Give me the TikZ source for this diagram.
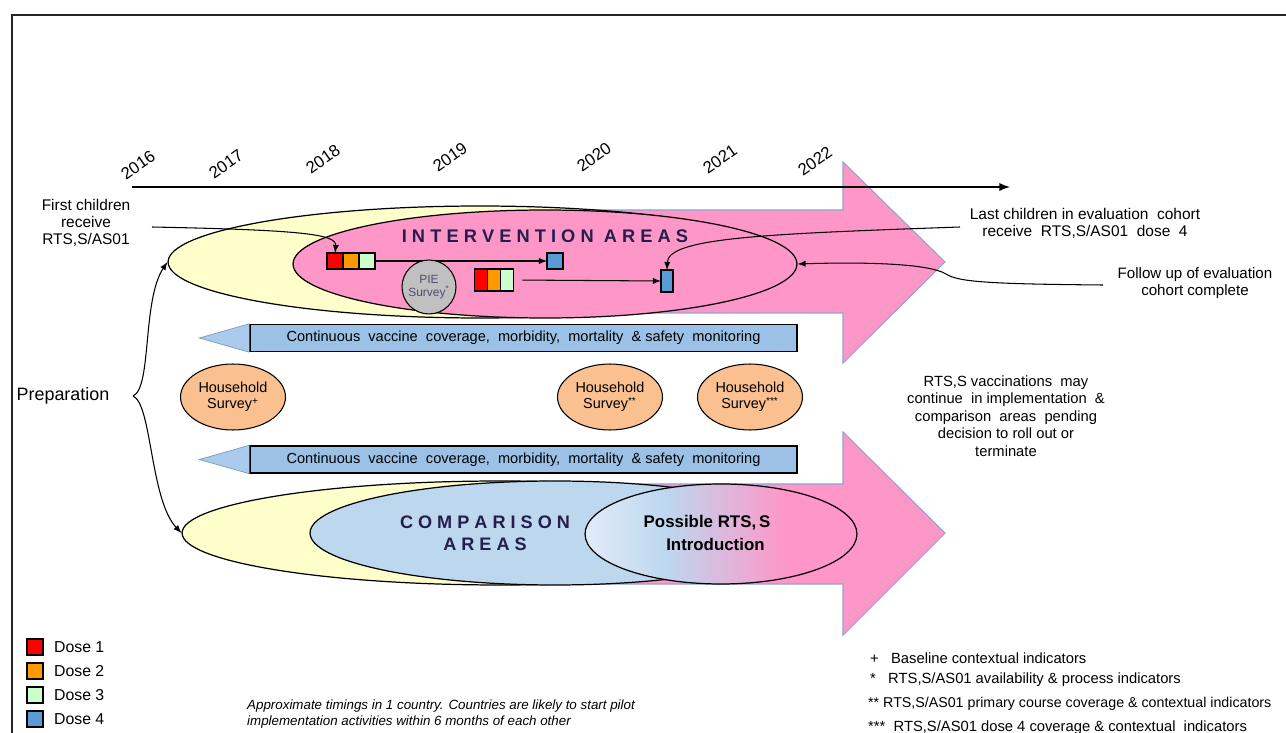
\documentclass[tikz,border=0pt]{standalone}
\usepackage{fontspec}
\setmainfont{Liberation Sans}
\usetikzlibrary{positioning}
\usetikzlibrary{calc}
\usetikzlibrary{arrows}
\usetikzlibrary{shapes}
\definecolor{pinkfill}{RGB}{255,150,200}
\definecolor{pinkedge}{RGB}{140,165,210}
\definecolor{yellowfill}{RGB}{255,255,204}
\definecolor{cmpblue}{RGB}{189,215,238}
\definecolor{introlight}{RGB}{225,235,248}
\definecolor{monblue}{RGB}{155,194,230}
\definecolor{monhead}{RGB}{170,203,236}
\definecolor{hhorange}{RGB}{250,192,144}
\definecolor{piegray}{RGB}{192,192,192}
\definecolor{dose1}{RGB}{255,0,0}
\definecolor{dose2}{RGB}{255,153,0}
\definecolor{dose3}{RGB}{204,255,204}
\definecolor{dose4}{RGB}{91,155,213}
\definecolor{navy}{RGB}{35,30,75}
\pgfdeclarehorizontalshading{introshade}{100bp}{color(0bp)=(introlight); color(25bp)=(introlight); color(40bp)=(cmpblue); color(62bp)=(pinkfill); color(100bp)=(pinkfill)}

\begin{document}
\begin{tikzpicture}[x=0.02cm, y=-0.02cm,
	conn/.style={line width=0.6pt, -latex},
	bigarrow/.style={fill=pinkfill, draw=pinkedge, line width=0.6pt},
	area/.style={ellipse, draw=black, line width=0.7pt, inner sep=0pt},
	dosebox/.style={draw=black, line width=0.8pt, inner sep=0pt, outer sep=0pt, minimum width=0.32cm, minimum height=0.32cm},
	dosetall/.style={dosebox, minimum width=0.26cm, minimum height=0.44cm},
	hhsurvey/.style={ellipse, draw=black, line width=0.6pt, fill=hhorange, minimum width=2.1cm, minimum height=1.32cm, inner sep=0pt, align=center, font=\fontsize{8.2}{9.4}\selectfont},
	monitor/.style={draw=black, line width=0.8pt, fill=monblue, minimum width=10.94cm, minimum height=0.54cm, inner sep=0pt, font=\fontsize{8.3}{9.5}\selectfont},
	year/.style={rotate=35, font=\fontsize{9.5}{11}\selectfont},
	note/.style={align=center, font=\fontsize{8.8}{9.8}\selectfont},
	legtxt/.style={font=\fontsize{9}{10.5}\selectfont},
	keytxt/.style={anchor=west, font=\fontsize{8.4}{10}\selectfont}]
	\useasboundingbox (0,0) rectangle (1286,733);
	% Frame
	\draw[line width=1.2pt, black!85] (12,733) -- (12,15) -- (1286,15);

	% Big arrows
	\draw[bigarrow] (400,210) -- (843,210) -- (843,162) -- (945,262) -- (843,363) -- (843,313) -- (400,313) -- cycle;
	\draw[bigarrow] (480,484) -- (843,484) -- (843,432) -- (945,533) -- (843,635) -- (843,584) -- (480,584) -- cycle;

	% Timeline
	\coordinate (tstart) at (132,187);
	\coordinate (tend) at (1010,187);
	\draw[line width=1.1pt, -latex] (tstart) -- (tend);
	\foreach \yr/\xx/\yy in {2016/138/165, 2017/226/164, 2018/323/159, 2019/450/157, 2020/594/157, 2021/720/159, 2022/815/161}
		\node[year] (y\yr) at (\xx,\yy) {\yr};

	% Intervention areas
	\node[area, fill=yellowfill, minimum width=12.48cm, minimum height=2.24cm] (intyellow) at (480,262) {};
	\node[area, fill=pinkfill, minimum width=10.08cm, minimum height=2.16cm] (intpink) at (545,264) {};
	\node[font=\bfseries\fontsize{10.4}{12}\selectfont, text=navy] (inttxt) at (545,236) {I N T E R V E N T I O N \ A R E A S};
	% Doses
	\node[dosebox, fill=dose1] (d1a) at (335,261) {};
	\node[dosebox, fill=dose2, right=0pt of d1a] (d1b) {};
	\node[dosebox, fill=dose3, right=0pt of d1b] (d1c) {};
	\node[dosebox, fill=dose4] (d1d) at (555,261) {};
	\draw[conn] (d1c.east) -- (d1d.west);
	\node[dosetall, fill=dose1] (d2a) at (481,280) {};
	\node[dosetall, fill=dose2, right=0pt of d2a] (d2b) {};
	\node[dosetall, fill=dose3, right=0pt of d2b] (d2c) {};
	\node[dosebox, fill=dose4, minimum width=0.24cm, minimum height=0.44cm] (d2d) at (667,281) {};
	\draw[conn, shorten <=0.18cm] (d2c.east) -- (d2d.west);
	\node[circle, draw=black, line width=0.6pt, fill=piegray, minimum size=1.08cm, inner sep=0pt, align=center, text=navy!80, font=\fontsize{6.8}{7.8}\selectfont] (pie) at (429,287) {PIE\\Survey\textsuperscript{*}};

	% Monitoring
	\node[monitor] (montop) at (523.5,338) {Continuous \ vaccine \ coverage, \ morbidity, \ mortality \ \& safety \ monitoring};
	\draw[fill=monhead, draw=monblue!80!black, line width=0.4pt] (montop.north west) -- ($(montop.west)+(-50,0)$) -- (montop.south west);
	\node[monitor] (monbot) at (523.5,459.5) {Continuous \ vaccine \ coverage, \ morbidity, \ mortality \ \& safety \ monitoring};
	\draw[fill=monhead, draw=monblue!80!black, line width=0.4pt] (monbot.north west) -- ($(monbot.west)+(-50,0)$) -- (monbot.south west);

	% Household surveys
	\node[hhsurvey] (hhbase) at (233,397) {Household\\Survey\textsuperscript{+}};
	\node[hhsurvey] (hhprimary) at (610,397) {Household\\Survey\textsuperscript{**}};
	\node[hhsurvey] (hhdose4) at (750,397) {Household\\Survey\textsuperscript{***}};

	% Comparison areas
	\node[area, fill=yellowfill, minimum width=12.72cm, minimum height=2.08cm] (cmpyellow) at (500,533) {};
	\node[area, fill=cmpblue, minimum width=9.8cm, minimum height=2.08cm] (cmpblue) at (555,533) {};
	\node[area, shade, shading=introshade, minimum width=5.44cm, minimum height=2.0cm] (intro) at (721,534) {};
	\node[align=center, text=navy, font=\bfseries\fontsize{10.3}{12.6}\selectfont] (cmptxt) at (485,533) {C O M P A R I S O N\\A R E A S};
	\node[align=center, font=\bfseries\fontsize{9.6}{12.6}\selectfont] (introtxt) at (707,533) {Possible RTS,\,S\\ \quad Introduction};

	% Notes and connectors
	\node[note] (firstkids) at (86,223) {First children\\receive\\RTS,S/AS01};
	\coordinate (firstfrom) at (152,227);
	\draw[conn] (firstfrom) .. controls (300,230) and (337,234) .. (d1a.north);
	\node[note] (lastkids) at (1085,223) {Last children in evaluation \ cohort\\receive \ RTS,S/AS01 \ dose \ 4};
	\coordinate (lastfrom) at (960,227);
	\draw[conn] (lastfrom) .. controls (760,234) and (668,238) .. (d2d.north);
	\node[note, font=\fontsize{8.6}{9.8}\selectfont] (followup) at (1195,283) {Follow up of evaluation\\cohort complete};
	\coordinate (followfrom) at (1103,285);
	\draw[conn] (followfrom) .. controls (990,284) and (958,282) .. (946,274) .. controls (928,263) and (860,262) .. (intpink.east);
	\node[font=\fontsize{10.2}{12}\selectfont] (prep) at (63,396) {Preparation};
	\coordinate (brace) at (133,396);
	\draw[conn] (brace) .. controls (152,388) and (142,300) .. (intyellow.west);
	\draw[conn] (brace) .. controls (152,404) and (150,500) .. (cmpyellow.west);
	\node[note, font=\fontsize{8.4}{9.9}\selectfont] (rollout) at (1006,416) {RTS,S vaccinations \ may\\continue \ in implementation \ \&\\comparison \ areas \ pending\\decision to roll out or\\terminate};

	% Legend
	\foreach \n/\c [count=\i] in {1/dose1, 2/dose2, 3/dose3, 4/dose4} {
		\node[dosebox, fill=\c] (leg\n) at (35,623+24*\i) {};
		\node[legtxt, right=0.1cm of leg\n] (legtxt\n) {Dose \n};
	}
	\node[anchor=west, align=left, font=\itshape\fontsize{7.6}{9.6}\selectfont] (timing) at (241,714) {Approximate timings in 1 country. Countries are likely to start pilot\\implementation activities within 6 months of each other};
	\node[keytxt] (key1) at (864,658) {+ \ \ Baseline contextual indicators};
	\node[keytxt] (key2) at (864,680) {* \ \ RTS,S/AS01 availability \& process indicators};
	\node[keytxt, font=\fontsize{8.1}{10}\selectfont] (key3) at (862,704) {** RTS,S/AS01 primary course coverage \& contextual indicators};
	\node[keytxt] (key4) at (862,728) {*** \ RTS,S/AS01 dose 4 coverage \& contextual \ indicators};
\end{tikzpicture}
\end{document}
